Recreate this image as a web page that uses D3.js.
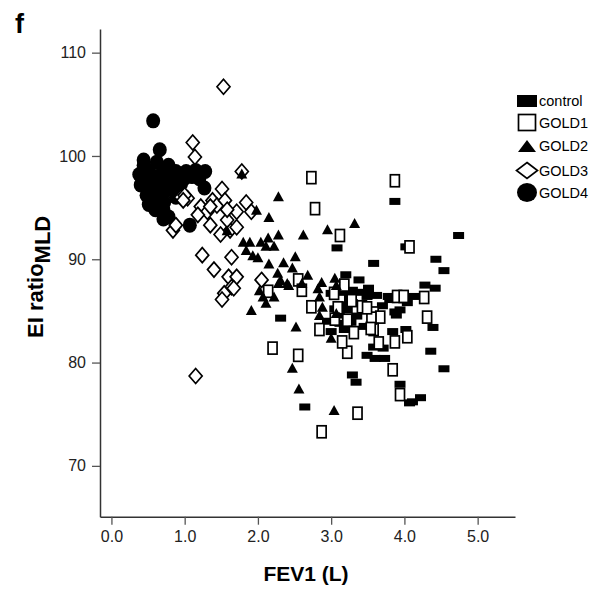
<!DOCTYPE html>
<html>
<head>
<meta charset="utf-8">
<script src="https://cdn.jsdelivr.net/npm/d3@7"></script>
<style>
  body { margin: 0; background: #fff; }
  svg { font-family: "Liberation Sans", Arial, sans-serif; }
</style>
</head>
<body>
<div id="container"></div>
<script>
// FEV1 (L), EI ratio MLD
const control = [
  [3.87,95.6],[4.74,92.3],[4.02,91.2],[3.58,89.6],[4.43,90.0],[4.54,88.9],[4.28,87.5],[4.42,87.2],
  [3.51,87.2],[3.78,86.4],[4.13,86.4],[3.08,91.1],[3.20,88.5],[3.40,86.8],[3.27,86.7],[3.00,86.7],
  [3.14,86.8],[3.29,87.0],[3.51,86.6],[3.15,85.6],[3.22,85.1],[3.29,85.8],[3.11,84.6],[3.27,83.9],
  [3.18,83.2],[3.00,83.0],[3.80,86.1],[3.87,84.9],[3.94,85.1],[4.02,83.2],[3.84,83.0],[3.71,81.4],
  [3.58,81.5],[3.49,80.7],[3.60,80.4],[3.73,80.4],[3.29,78.8],[3.34,78.1],[3.94,77.9],[4.07,76.1],
  [2.64,75.7],[4.04,85.8],[4.39,83.4],[4.36,81.1],[4.54,79.4],[4.11,76.2],[4.22,76.6],[3.49,86.4],
  [2.31,84.3],[3.89,84.6],[3.05,85.2],[3.12,83.8],[3.35,84.5],[3.45,83.5],[3.25,86.2],[3.38,88.0],
  [3.62,86.5],[3.70,85.5],[2.95,84.0]
];
const gold1 = [
  [2.73,97.9],[2.78,94.9],[3.12,92.3],[2.14,86.9],[2.55,88.0],[2.60,87.0],[3.04,86.7],[3.18,87.5],
  [3.87,97.6],[4.07,91.2],[2.73,85.4],[2.84,83.2],[3.09,85.3],[3.22,84.1],[3.31,82.9],[3.22,81.0],
  [3.42,85.4],[3.58,84.8],[3.67,84.4],[3.58,83.2],[3.65,81.9],[3.87,82.0],[3.84,79.3],[3.94,76.9],
  [4.04,82.5],[3.36,75.1],[2.87,73.3],[2.55,80.7],[2.20,81.4],[3.90,86.4],[3.99,86.4],[4.27,86.3],
  [4.31,84.4],[3.55,84.3],[3.54,83.3],[3.49,85.3],[3.05,84.2],[3.28,86.0],[3.15,82.0]
];
const gold2 = [
  [2.28,96.1],[2.15,94.1],[2.28,92.4],[2.62,92.4],[2.95,92.9],[3.32,93.5],[2.14,92.1],[2.04,91.7],
  [2.11,91.3],[2.22,91.3],[2.51,90.3],[2.15,89.6],[2.35,89.7],[2.47,89.2],[2.00,90.2],[2.27,88.7],
  [2.31,88.0],[2.42,87.5],[2.68,88.5],[2.87,87.8],[3.05,88.2],[2.82,87.2],[3.07,87.5],[1.78,98.3],
  [1.80,91.7],[1.89,91.7],[1.84,90.9],[1.93,90.4],[2.02,87.0],[2.22,86.4],[1.58,92.8],[1.91,85.1],
  [2.11,85.8],[2.07,86.4],[2.28,87.7],[2.40,87.7],[2.60,87.7],[2.52,83.5],[2.47,79.5],[2.56,77.5],
  [3.04,75.4],[2.84,86.4],[2.88,85.4],[2.84,84.6],[3.00,82.4],[3.07,84.8],[1.98,94.8]
];
const gold3 = [
  [1.53,106.7],[1.15,78.7],[1.11,101.3],[1.14,99.9],[1.78,98.5],[1.51,96.8],[1.84,95.5],[1.91,94.6],
  [1.71,94.6],[0.84,92.8],[1.24,90.4],[1.40,89.0],[1.64,90.2],[1.60,88.3],[1.71,88.3],[1.64,87.3],
  [1.54,86.7],[1.51,86.1],[2.05,88.0],[1.67,87.2],[0.95,96.0],[1.04,95.9],[1.22,95.1],[1.38,95.7],
  [1.44,95.2],[1.55,95.7],[1.35,93.3],[1.49,92.4],[1.62,92.8],[1.58,93.8],[1.71,93.1],[1.31,94.6],
  [1.18,94.3],[1.00,96.2],[0.88,93.3],[1.58,94.8],[1.35,95.1],[0.98,95.7]
];
const gold4 = [
  [0.57,103.4],[0.66,100.6],[0.44,99.1],[0.38,98.2],[0.40,97.2],[0.48,96.2],[0.58,95.3],[0.71,94.8],
  [0.78,94.1],[0.51,98.6],[0.62,99.4],[0.75,98.8],[0.88,98.5],[1.02,98.5],[1.15,98.6],[1.28,98.5],
  [1.27,96.9],[1.07,93.3],[0.78,97.7],[0.64,97.9],[0.54,97.5],[0.62,96.5],[0.75,96.7],[0.88,97.2],
  [0.98,97.7],[0.88,96.0],[0.69,95.7],[0.51,95.3],[0.44,99.6],[0.78,99.1],[0.91,96.5],[0.71,93.9],
  [0.50,97.0],[0.58,98.0],[0.68,98.2],[0.82,98.0],[0.95,97.3],[0.55,96.0],[0.66,97.0],[0.45,98.0],
  [0.72,95.5],[0.60,94.8],[1.20,97.8],[1.10,98.0]
];
const xTicks = [0, 1, 2, 3, 4, 5];
const yTicks = [70, 80, 90, 100, 110];
const legendLabels = ["control", "GOLD1", "GOLD2", "GOLD3", "GOLD4"];

const width = 604, height = 590;

let x = d3.scaleLinear().domain([-0.156, 5.51]).range([100, 515]);
let y = d3.scaleLinear().domain([65.08, 112.29]).range([516.7, 29]);

let svg = d3.select("#container").append("svg")
    .attr("width", width)
    .attr("height", height);

// axes
let xAxis = svg.append("g")
    .attr("transform", `translate(0,${y.range()[0]})`)
    .call(d3.axisBottom(x).tickValues(xTicks).tickFormat(d3.format(".1f")).tickSize(8).tickPadding(6).tickSizeOuter(0));
let yAxis = svg.append("g")
    .attr("transform", `translate(${x.range()[0]},0)`)
    .call(d3.axisLeft(y).tickValues(yTicks).tickSize(8).tickPadding(6).tickSizeOuter(0));
[xAxis, yAxis].forEach(g => {
    g.select(".domain").attr("stroke", "#333").attr("stroke-width", 1.5);
    g.selectAll(".tick line").attr("stroke", "#555").attr("stroke-width", 1.3);
    g.selectAll(".tick text").attr("fill", "#222").style("font-size", "16px");
});

// titles
svg.append("text")
    .attr("x", 306).attr("y", 581)
    .attr("text-anchor", "middle")
    .style("font-size", "21px").style("font-weight", "bold")
    .text("FEV1 (L)");

let ylab = svg.append("text")
    .attr("transform", "translate(43,338) rotate(-90)")
    .attr("text-anchor", "start")
    .style("font-size", "22px").style("font-weight", "bold");
ylab.append("tspan").text("EI ratio");
ylab.append("tspan").attr("dy", 7).text("MLD");

svg.append("text")
    .attr("x", 15).attr("y", 33)
    .style("font-size", "27px").style("font-weight", "bold")
    .text("f");

// marker drawers
function drawControl(g, w, h) {
    g.append("rect").attr("x", -w / 2).attr("y", -h / 2).attr("width", w).attr("height", h)
        .attr("fill", "#000");
}
function drawGold1(g, w, h) {
    g.append("rect").attr("x", -w / 2).attr("y", -h / 2).attr("width", w).attr("height", h)
        .attr("fill", "#fff").attr("stroke", "#000").attr("stroke-width", 1.7);
}
function drawGold2(g, w, h) {
    g.append("path").attr("d", `M0,${-h / 2}L${w / 2},${h / 2}L${-w / 2},${h / 2}Z`).attr("fill", "#000");
}
function drawGold3(g, w, h) {
    g.append("path").attr("d", `M0,${-h / 2}L${w / 2},0L0,${h / 2}L${-w / 2},0Z`)
        .attr("fill", "#fff").attr("stroke", "#000").attr("stroke-width", 1.7);
}
function drawGold4(g, w, h) {
    g.append("ellipse").attr("rx", w / 2).attr("ry", h / 2).attr("fill", "#000");
}

let plot = svg.append("g");
function plotSeries(data, drawer, w, h) {
    plot.selectAll(null)
        .data(data)
        .enter()
        .append("g")
        .attr("transform", d => `translate(${x(d[0])},${y(d[1])})`)
        .each(function () { drawer(d3.select(this), w, h); });
}
plotSeries(gold4, drawGold4, 14, 15);
plotSeries(control, drawControl, 11, 7);
plotSeries(gold1, drawGold1, 9, 12);
plotSeries(gold3, drawGold3, 13, 15);
plotSeries(gold2, drawGold2, 11, 10);

// legend
const legendDrawers = [
    [drawControl, 20, 12], [drawGold1, 17, 16], [drawGold2, 18, 12], [drawGold3, 21, 16], [drawGold4, 20, 19]
];
const legendY = [101, 122.5, 146, 170.5, 192.5];
legendLabels.forEach((lab, i) => {
    let g = svg.append("g").attr("transform", `translate(527,${legendY[i]})`);
    legendDrawers[i][0](g, legendDrawers[i][1], legendDrawers[i][2]);
    svg.append("text")
        .attr("x", 539).attr("y", legendY[i])
        .attr("dominant-baseline", "central")
        .style("font-size", "14.5px")
        .text(lab);
});
</script>
</body>
</html>
